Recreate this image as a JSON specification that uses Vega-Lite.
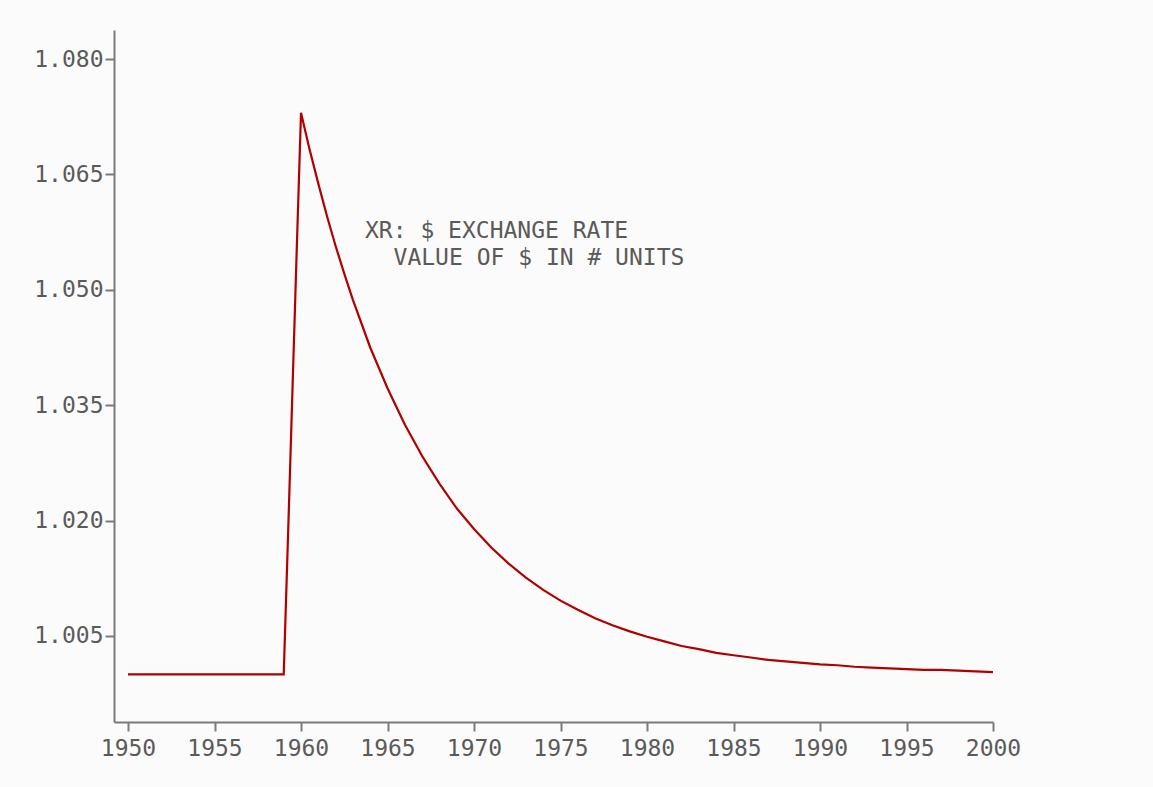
{
  "$schema": "https://vega.github.io/schema/vega-lite/v6.json",
  "width": 879,
  "height": 692,
  "autosize": "none",
  "padding": {"left": 114, "top": 30, "right": 160, "bottom": 65},
  "background": "#fbfbfb",
  "config": {
    "view": {"stroke": null},
    "axis": {
      "grid": false,
      "domainColor": "#7a7a7a",
      "domainWidth": 2,
      "tickColor": "#7a7a7a",
      "tickWidth": 2,
      "tickSize": 9,
      "labelFont": "DejaVu Sans Mono",
      "labelFontSize": 23,
      "labelColor": "#5a5a5a",
      "labelFlush": false,
      "labelOverlap": false,
      "title": null
    }
  },
  "datasets": {
    "series": [
      {"year": 1950, "xr": 1.0},
      {"year": 1959, "xr": 1.0},
      {"year": 1959.25, "xr": 1.018},
      {"year": 1959.5, "xr": 1.0365},
      {"year": 1959.75, "xr": 1.055},
      {"year": 1960, "xr": 1.073},
      {"year": 1960.5, "xr": 1.0682},
      {"year": 1961, "xr": 1.0638},
      {"year": 1961.5, "xr": 1.0596},
      {"year": 1962, "xr": 1.0557},
      {"year": 1962.5, "xr": 1.0521},
      {"year": 1963, "xr": 1.0487},
      {"year": 1964, "xr": 1.0425},
      {"year": 1965, "xr": 1.0372},
      {"year": 1966, "xr": 1.0325},
      {"year": 1967, "xr": 1.0284},
      {"year": 1968, "xr": 1.0248},
      {"year": 1969, "xr": 1.0216},
      {"year": 1970, "xr": 1.0189},
      {"year": 1971, "xr": 1.0165},
      {"year": 1972, "xr": 1.0144},
      {"year": 1973, "xr": 1.0126},
      {"year": 1974, "xr": 1.011},
      {"year": 1975, "xr": 1.0096},
      {"year": 1976, "xr": 1.0084},
      {"year": 1977, "xr": 1.0073},
      {"year": 1978, "xr": 1.0064},
      {"year": 1979, "xr": 1.0056},
      {"year": 1980, "xr": 1.0049},
      {"year": 1981, "xr": 1.0043},
      {"year": 1982, "xr": 1.0037},
      {"year": 1983, "xr": 1.0033},
      {"year": 1984, "xr": 1.0028},
      {"year": 1985, "xr": 1.0025},
      {"year": 1986, "xr": 1.0022},
      {"year": 1987, "xr": 1.0019},
      {"year": 1988, "xr": 1.0017},
      {"year": 1989, "xr": 1.0015},
      {"year": 1990, "xr": 1.0013},
      {"year": 1991, "xr": 1.0012},
      {"year": 1992, "xr": 1.001},
      {"year": 1993, "xr": 1.0009},
      {"year": 1994, "xr": 1.0008},
      {"year": 1995, "xr": 1.0007},
      {"year": 1996, "xr": 1.0006},
      {"year": 1997, "xr": 1.0006},
      {"year": 1998, "xr": 1.0005},
      {"year": 1999, "xr": 1.0004},
      {"year": 2000, "xr": 1.0003}
    ],
    "notes": [
      {"year": 1963.7, "xr": 1.0577, "label": "XR: $ EXCHANGE RATE"},
      {"year": 1965.35, "xr": 1.0541, "label": "VALUE OF $ IN # UNITS"}
    ]
  },
  "layer": [
    {
      "data": {"name": "series"},
      "mark": {"type": "line", "color": "#b00000", "strokeWidth": 2.2, "clip": true},
      "encoding": {
        "x": {
          "field": "year",
          "type": "quantitative",
          "scale": {"domain": [1949.19, 2000], "nice": false, "zero": false},
          "axis": {"values": [1950, 1955, 1960, 1965, 1970, 1975, 1980, 1985, 1990, 1995, 2000], "format": "d", "labelPadding": 6}
        },
        "y": {
          "field": "xr",
          "type": "quantitative",
          "scale": {"domain": [0.99382, 1.08377], "nice": false, "zero": false},
          "axis": {"values": [1.005, 1.02, 1.035, 1.05, 1.065, 1.08], "format": ".3f", "labelPadding": 2}
        }
      }
    },
    {
      "data": {"name": "notes"},
      "mark": {"type": "text", "align": "left", "baseline": "middle", "font": "DejaVu Sans Mono", "fontSize": 23, "color": "#5a5a5a"},
      "encoding": {
        "x": {"field": "year", "type": "quantitative"},
        "y": {"field": "xr", "type": "quantitative"},
        "text": {"field": "label"}
      }
    }
  ]
}
